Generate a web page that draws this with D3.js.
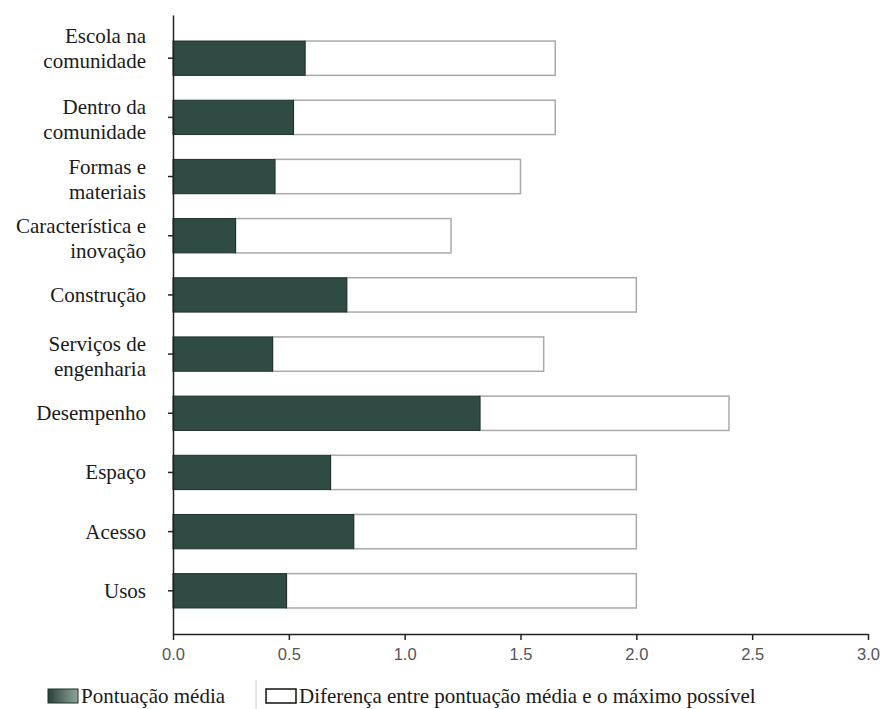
<!DOCTYPE html>
<html lang="pt">
<head>
  <meta charset="UTF-8">
  <title>Pontuação média por categoria</title>
  <script src="https://d3js.org/d3.v7.min.js"></script>
  <style>
    body { margin: 0; background: #fff; }
    svg { display: block; }
    .serif { font-family: "Liberation Serif", "DejaVu Serif", serif; }
  </style>
</head>
<body>
  <div id="chart"></div>

  <script>
    // dados
    const categories = [
      "Escola na\ncomunidade",
      "Dentro da\ncomunidade",
      "Formas e\nmateriais",
      "Característica e\ninovação",
      "Construção",
      "Serviços de\nengenharia",
      "Desempenho",
      "Espaço",
      "Acesso",
      "Usos"
    ];
    const mediaScore = [0.57, 0.52, 0.44, 0.27, 0.75, 0.43, 1.325, 0.68, 0.78, 0.49];
    const maxScore = [1.65, 1.65, 1.50, 1.20, 2.00, 1.60, 2.40, 2.00, 2.00, 2.00];
    const xTicks = [0, 0.5, 1.0, 1.5, 2.0, 2.5, 3.0];
    const legendLabels = ["Pontuação média", "Diferença entre pontuação média e o máximo possível"];

    const width = 882, height = 709;
    const dark = "#2f4b43";

    const svg = d3.select("#chart").append("svg")
      .attr("width", width)
      .attr("height", height);

    const defs = svg.append("defs");
    const sepGrad = defs.append("linearGradient").attr("id", "sep");
    sepGrad.append("stop").attr("offset", "0%").attr("stop-color", "#fff");
    sepGrad.append("stop").attr("offset", "50%").attr("stop-color", "#999");
    sepGrad.append("stop").attr("offset", "100%").attr("stop-color", "#eee");
    const swGrad = defs.append("linearGradient").attr("id", "sw");
    swGrad.append("stop").attr("offset", "0%").attr("stop-color", "#2a4139");
    swGrad.append("stop").attr("offset", "100%").attr("stop-color", "#8fa59c");

    const x = d3.scaleLinear().domain([0, 3]).range([173, 868]);
    const y = d3.scaleBand().domain(categories).range([15, 634])
      .paddingInner(0.42).paddingOuter(0.44);

    const rows = categories.map((c, i) => ({ cat: c, avg: mediaScore[i], max: maxScore[i] }));

    // linhas separadoras à esquerda
    svg.append("g").selectAll("line")
      .data(categories.slice(1))
      .join("line")
      .attr("x1", 4).attr("x2", 166)
      .attr("y1", d => y(d) - y.step() * y.paddingInner() / 2 - 1.5)
      .attr("y2", d => y(d) - y.step() * y.paddingInner() / 2 - 1.5)
      .attr("stroke", "url(#sep)")
      .attr("stroke-width", 1.5);

    // barra branca: diferença até o máximo
    svg.append("g").selectAll("rect")
      .data(rows)
      .join("rect")
      .attr("x", d => x(d.avg))
      .attr("y", d => y(d.cat))
      .attr("width", d => x(d.max) - x(d.avg))
      .attr("height", y.bandwidth())
      .attr("fill", "#fff")
      .attr("stroke", "#aaa")
      .attr("stroke-width", 1.5);

    // barra escura: pontuação média
    svg.append("g").selectAll("rect")
      .data(rows)
      .join("rect")
      .attr("x", x(0))
      .attr("y", d => y(d.cat))
      .attr("width", d => x(d.avg) - x(0))
      .attr("height", y.bandwidth())
      .attr("fill", dark)
      .attr("stroke", "#1e302a")
      .attr("stroke-width", 1);

    // eixo x
    const xAxis = svg.append("g")
      .attr("transform", `translate(0,634)`)
      .call(d3.axisBottom(x).tickValues(xTicks).tickFormat(d3.format(".1f")).tickSize(6).tickSizeOuter(0));
    xAxis.select(".domain").attr("stroke", "#222").attr("stroke-width", 1.5);
    xAxis.selectAll(".tick line").attr("stroke", "#222").attr("stroke-width", 1.5);
    xAxis.selectAll(".tick text")
      .attr("dy", "1.05em")
      .attr("fill", "#555")
      .style("font-family", "'Liberation Sans', Arial, sans-serif")
      .style("font-size", "16.5px");

    // eixo y
    const yAxis = svg.append("g")
      .attr("transform", `translate(173,0)`)
      .call(d3.axisLeft(y).tickSize(5).tickSizeOuter(0).tickFormat(""));
    yAxis.select(".domain").attr("stroke", "#222").attr("stroke-width", 1.5);
    yAxis.selectAll(".tick line").attr("stroke", "#222").attr("stroke-width", 1.5);

    // rótulos das categorias
    const labels = svg.append("g")
      .attr("class", "serif")
      .style("font-size", "21px")
      .attr("fill", "#1a1a1a")
      .attr("text-anchor", "end");
    rows.forEach((d, i) => {
      const lines = d.cat.split("\n");
      const cy = y(d.cat) + y.bandwidth() / 2;
      let base = lines.length === 1 ? cy + 7 : cy - 3;
      if (i === 0 && lines.length > 1) base -= 12;
      const t = labels.append("text").attr("x", 146).attr("y", base);
      lines.forEach((ln, k) => {
        t.append("tspan").attr("x", 146).attr("dy", k === 0 ? 0 : 25).text(ln);
      });
    });

    // legenda
    const leg = svg.append("g")
      .attr("class", "serif")
      .style("font-size", "21px")
      .attr("fill", "#1a1a1a");
    leg.append("rect").attr("x", 48).attr("y", 689).attr("width", 30).attr("height", 14)
      .attr("fill", "url(#sw)").attr("stroke", "#1e302a").attr("stroke-width", 1);
    leg.append("text").attr("x", 81).attr("y", 703).text(legendLabels[0]);
    leg.append("line").attr("x1", 256).attr("x2", 256).attr("y1", 680).attr("y2", 709)
      .attr("stroke", "#ccc").attr("stroke-width", 1);
    leg.append("rect").attr("x", 266).attr("y", 689).attr("width", 30).attr("height", 14)
      .attr("fill", "#fff").attr("stroke", "#111").attr("stroke-width", 1.5);
    leg.append("text").attr("x", 299).attr("y", 703).text(legendLabels[1]);
  </script>
</body>
</html>
